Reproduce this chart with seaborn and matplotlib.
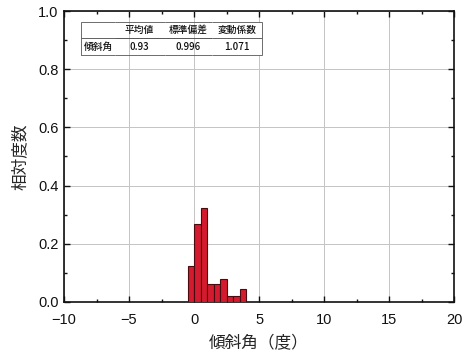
import numpy as np
import pandas as pd
import seaborn as sns
import matplotlib
matplotlib.use("Agg")
import matplotlib.pyplot as plt
from matplotlib.ticker import MultipleLocator

# Histogram of inclination angle: bin edges (deg) and relative frequency per bin
bin_edges = [-0.5, 0.0, 0.5, 1.0, 1.5, 2.0, 2.5, 3.0, 3.5, 4.0]
rel_freq = [0.125, 0.269, 0.322, 0.061, 0.061, 0.078, 0.020, 0.020, 0.044]

# Summary statistics table
stat_headers = ["平均値", "標準偏差", "変動係数"]
stat_row_label = "傾斜角"
stat_values = ["0.93", "0.996", "1.071"]

sns.set_theme(style="ticks")
plt.rcParams["font.family"] = ["Liberation Sans", "Noto Sans CJK JP", "DejaVu Sans"]
cjk = ["Noto Sans CJK JP", "DejaVu Sans"]

centers = [(a + b) / 2 for a, b in zip(bin_edges[:-1], bin_edges[1:])]
df = pd.DataFrame({"angle": centers, "freq": rel_freq})

fig = plt.figure(figsize=(4.71, 3.56), dpi=100)
ax = fig.add_axes([0.136, 0.152, 0.828, 0.817])

sns.histplot(data=df, x="angle", weights="freq", bins=bin_edges, stat="count",
             color="#d41a2e", edgecolor="#4a0b10", linewidth=0.8, alpha=1.0,
             ax=ax, zorder=3)

ax.set_xlim(-10, 20)
ax.set_ylim(0, 1.0)
ax.xaxis.set_major_locator(MultipleLocator(5))
ax.xaxis.set_minor_locator(MultipleLocator(2.5))
ax.yaxis.set_major_locator(MultipleLocator(0.2))
ax.yaxis.set_minor_locator(MultipleLocator(0.1))
ax.set_xticklabels([f"{v:g}".replace("-", "\u2212") for v in ax.get_xticks()])
ax.set_yticklabels([f"{v:.1f}" for v in ax.get_yticks()])
ax.grid(True, which="major", color="#c4c4c4", linewidth=0.7, zorder=0)
ax.set_axisbelow(True)
ax.tick_params(which="both", direction="in", top=True, right=True,
               labelsize=10.5, colors="#111111", width=1.0)
ax.tick_params(which="major", length=4.5)
ax.tick_params(axis="x", which="major", pad=8)
ax.tick_params(axis="y", which="major", pad=4)
ax.tick_params(which="minor", length=2.5)
for s in ax.spines.values():
    s.set_linewidth(1.2)
    s.set_color("#111111")

ax.set_xlabel("傾斜角（度）", fontsize=12, family=cjk, labelpad=6)
ax.set_ylabel("相対度数", fontsize=12, family=cjk, labelpad=7)

# Statistics table in the upper left of the plot area
cell_text = [["", *stat_headers], [stat_row_label, *stat_values]]
tbl = ax.table(cellText=cell_text, cellLoc="center",
               colWidths=[0.34, 0.50, 0.48, 0.50],
               bbox=[0.043, 0.85, 0.465, 0.112], zorder=5)
tbl.auto_set_font_size(False)
ncols = len(cell_text[0])
for (r, c), cell in tbl.get_celld().items():
    cell.set_linewidth(0.6)
    cell.set_edgecolor("#555555")
    cell.set_facecolor("white")
    txt = cell.get_text()
    txt.set_fontsize(7)
    txt.set_fontfamily(cjk)
    txt.set_fontweight("medium")
    txt.set_color("#111111")
    if c == 0:
        cell.visible_edges = "LTB"
    elif c == ncols - 1:
        cell.visible_edges = "RTB"
    else:
        cell.visible_edges = "TB"
    if c == 0 and r == 1:
        txt.set_ha("left")
        cell._loc = "left"

fig.savefig("out.png", dpi=100)
